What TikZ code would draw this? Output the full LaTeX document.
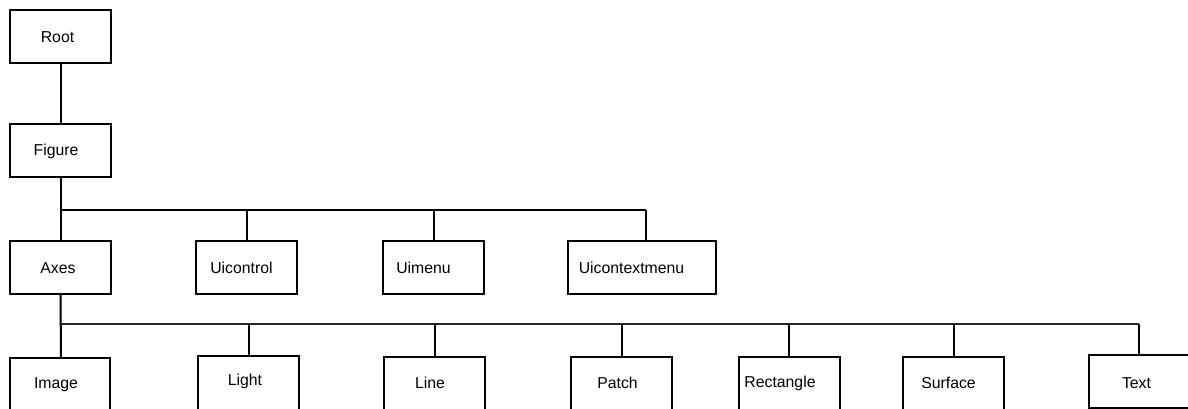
\documentclass[tikz,border=0pt]{standalone}
\usepackage{fontspec}
\setmainfont{Liberation Sans}
\begin{document}
\begin{tikzpicture}[x=1pt,y=-1pt,
  box/.style={draw=black,line width=2pt,fill=white,inner sep=0pt,
    minimum width=101pt,minimum height=53pt},
  lbl/.style={inner sep=0pt,font=\fontsize{15.8}{18}\selectfont},
  wire/.style={draw=black,line width=2pt},
  thinwire/.style={draw=black!85,line width=1.6pt}]
\clip (0,0) rectangle (1188,408);
\useasboundingbox (0,0) rectangle (1188,408);
% top levels
\node[box] (root) at (60.5,36) {};
\node[lbl] (rootlbl) at (57.5,37) {Root};
\node[box] (figure) at (60.5,150.5) {};
\node[lbl] (figurelbl) at (56,151) {Figure};
\node[box] (axes) at (60.5,267.5) {};
\node[lbl] (axeslbl) at (58,268) {Axes};
\node[box] (uicontrol) at (246.5,267.5) {};
\node[lbl] (uicontrollbl) at (241.5,268) {Uicontrol};
\node[box] (uimenu) at (433.5,267.5) {};
\node[lbl] (uimenulbl) at (423.5,268) {Uimenu};
\node[box,minimum width=148pt] (uictx) at (642,267.5) {};
\node[lbl] (uictxlbl) at (631.5,268) {Uicontextmenu};
% bottom level
\node[box,minimum width=100pt,minimum height=60pt,anchor=north] (image) at (60,357) {};
\node[lbl] (imagelbl) at (56,385) {Image};
\node[box,minimum height=60pt,anchor=north] (light) at (248.5,355) {};
\node[lbl] (lightlbl) at (245,381) {Light};
\node[box,minimum height=60pt,anchor=north] (line) at (434.5,356) {};
\node[lbl] (linelbl) at (430,383) {Line};
\node[box,minimum height=60pt,anchor=north] (patch) at (621.5,356) {};
\node[lbl] (patchlbl) at (617.5,383) {Patch};
\node[box,minimum height=60pt,anchor=north] (rect) at (789,356) {};
\node[lbl] (rectlbl) at (780,383) {Rectangle};
\node[box,minimum height=60pt,anchor=north] (surface) at (953.5,356) {};
\node[lbl] (surfacelbl) at (948.5,383) {Surface};
\node[box,minimum width=100pt,minimum height=53pt,anchor=north] (text) at (1139,354) {};
\node[lbl] (textlbl) at (1136.5,383) {Text};
% connectors
\coordinate (b1) at (61,210);
\coordinate (b1end) at (646,210);
\coordinate (b2) at (61,324);
\coordinate (b2end) at (1139,324);
\draw[wire] (root.south) -- (figure.north);
\draw[wire] (figure.south) -- (axes.north);
\draw[wire] (b1) -- (b1end);
\draw[wire] (b1 -| uicontrol.north) -- (uicontrol.north);
\draw[wire] (b1 -| uimenu.north) -- (uimenu.north);
\draw[wire] (b1end) -- (b1end |- uictx.north);
\draw[wire] (axes.south) -- (image.north -| b2);
\draw[thinwire] (b2) -- (b2end);
\draw[wire] (b2 -| light.north) -- (light.north);
\draw[wire] (b2 -| line.north) -- (line.north);
\draw[wire] (b2 -| patch.north) -- (patch.north);
\draw[wire] (b2 -| rect.north) -- (rect.north);
\draw[wire] (b2 -| surface.north) -- (surface.north);
\draw[wire] (b2end) -- (text.north);
\end{tikzpicture}
\end{document}
